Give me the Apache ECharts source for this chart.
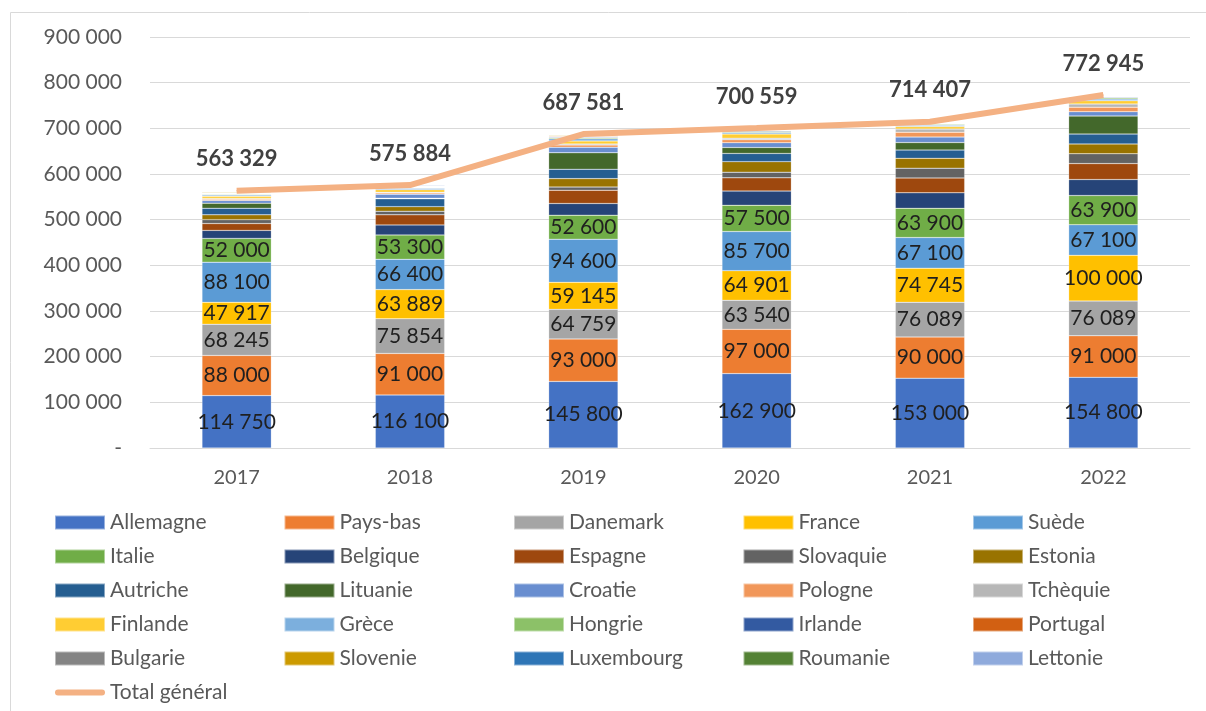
<!DOCTYPE html>
<html>
<head>
<meta charset="utf-8">
<script src="https://cdn.jsdelivr.net/npm/echarts@6/dist/echarts.min.js"></script>
<style>
  html, body { margin: 0; padding: 0; background: #fff; }
  #main { width: 1206px; height: 711px; }
</style>
</head>
<body>
<div id="main"></div>
<script>
const years = ['2017', '2018', '2019', '2020', '2021', '2022'];
const yTicks = [0, 100000, 200000, 300000, 400000, 500000, 600000, 700000, 800000, 900000];

const countries = ['Allemagne', 'Pays-bas', 'Danemark', 'France', 'Suède',
  'Italie', 'Belgique', 'Espagne', 'Slovaquie', 'Estonia',
  'Autriche', 'Lituanie', 'Croatie', 'Pologne', 'Tchèquie',
  'Finlande', 'Grèce', 'Hongrie', 'Irlande', 'Portugal',
  'Bulgarie', 'Slovenie', 'Luxembourg', 'Roumanie', 'Lettonie'];

const colors = ['#4472C4', '#ED7D31', '#A5A5A5', '#FFC000', '#5B9BD5',
  '#70AD47', '#264478', '#9E480E', '#636363', '#997300',
  '#255E91', '#43682B', '#698ED0', '#F1975A', '#B7B7B7',
  '#FFCD33', '#7CAFDD', '#8CC168', '#335AA1', '#D26012',
  '#848484', '#CC9A00', '#2E75B6', '#548235', '#8FAADC'];

// values per country, 2017 -> 2022
const allemagne  = [114750, 116100, 145800, 162900, 153000, 154800];
const paysBas    = [88000, 91000, 93000, 97000, 90000, 91000];
const danemark   = [68245, 75854, 64759, 63540, 76089, 76089];
const france     = [47917, 63889, 59145, 64901, 74745, 100000];
const suede      = [88100, 66400, 94600, 85700, 67100, 67100];
const italie     = [52000, 53300, 52600, 57500, 63900, 63900];
const belgique   = [17500, 22000, 25500, 31000, 34000, 35000];
const espagne    = [15000, 22000, 29000, 29000, 32500, 35000];
const slovaquie  = [8500, 8000, 7000, 12500, 21500, 21500];
const estonia    = [10500, 10000, 18500, 23000, 21500, 21500];
const autriche   = [14500, 17000, 20500, 18000, 18000, 21500];
const lituanie   = [11000, 1500, 36000, 13000, 16500, 39500];
const croatie    = [6000, 8500, 12000, 10500, 12000, 9500];
const pologne    = [2500, 3000, 5000, 6500, 10500, 10000];
const tchequie   = [2000, 1500, 2500, 3500, 7000, 7000];
const finlande   = [4500, 5500, 6500, 9000, 5500, 7000];
const grece      = [3000, 3000, 5000, 3500, 3000, 4000];
const hongrie    = [1500, 1000, 2000, 2000, 2000, 2500];
const irlande    = [1000, 1000, 1500, 1500, 1000, 1500];
const portugal   = [1500, 1000, 1500, 1500, 1000, 1000];
const bulgarie   = [1000, 1000, 1000, 1000, 1000, 1000];
const slovenie   = [1500, 1000, 1500, 1000, 1000, 1000];
const luxembourg = [1000, 500, 1000, 1000, 500, 500];
const roumanie   = [1000, 500, 1000, 500, 500, 500];
const lettonie   = [817, 1341, 677, 1018, 573, 556];

const totals = [563329, 575884, 687581, 700559, 714407, 772945];

const seriesValues = [allemagne, paysBas, danemark, france, suede,
  italie, belgique, espagne, slovaquie, estonia,
  autriche, lituanie, croatie, pologne, tchequie,
  finlande, grece, hongrie, irlande, portugal,
  bulgarie, slovenie, luxembourg, roumanie, lettonie];

const fmt = v => String(v).replace(/\B(?=(\d{3})+(?!\d))/g, ' ');
const FONT = 'Lato';

const chart = echarts.init(document.getElementById('main'));

const series = countries.map((name, i) => ({
  name: name,
  type: 'bar',
  stack: 'total',
  barWidth: '40%',
  itemStyle: { color: colors[i], borderColor: 'rgba(255,255,255,0.45)', borderWidth: 0.5 },
  label: {
    show: i < 6,
    position: 'inside',
    fontFamily: FONT,
    fontSize: 21,
    color: '#1f1f1f',
    formatter: p => fmt(p.value)
  },
  data: seriesValues[i]
}));

// total line, labels need a (tiny) symbol to be drawn
series.push({
  name: 'Total général',
  type: 'line',
  symbol: 'circle',
  symbolSize: 1,
  showSymbol: true,
  z: 10,
  lineStyle: { color: '#F4B183', width: 6 },
  itemStyle: { color: '#F4B183' },
  label: {
    show: true,
    position: 'top',
    distance: 20,
    fontFamily: FONT,
    fontSize: 22,
    fontWeight: 'bold',
    color: '#404040',
    formatter: p => fmt(p.value)
  },
  data: totals
});

// legend: 5 columns laid out like the original
const lineIcon = 'path://M3,0 h44 a3,3 0 0 1 0,6 h-44 a3,3 0 0 1 0,-6 Z';
const legends = [];
for (let c = 0; c < 5; c++) {
  const names = countries.filter((n, i) => i % 5 === c).map(n => ({ name: n, icon: 'rect' }));
  if (c === 0) names.push({ name: 'Total général', icon: lineIcon });
  legends.push({
    orient: 'vertical',
    left: 49 + c * 229.5,
    top: 507,
    itemWidth: 50,
    itemHeight: 14,
    itemGap: 13,
    textStyle: { fontFamily: FONT, fontSize: 21, color: '#595959' },
    data: names
  });
}

const option = {
  animation: false,
  textStyle: { fontFamily: FONT },
  graphic: [{
    type: 'rect',
    shape: { x: 10.5, y: 12.5, width: 1210, height: 720 },
    style: { fill: 'none', stroke: '#D9D9D9', lineWidth: 1 }
  }],
  grid: { left: 150, right: 16, top: 37, bottom: 263 },
  legend: legends,
  xAxis: {
    type: 'category',
    data: years,
    axisTick: { show: false },
    axisLine: { lineStyle: { color: '#D9D9D9' } },
    axisLabel: { fontFamily: FONT, fontSize: 20, color: '#595959', margin: 20 }
  },
  yAxis: {
    type: 'value',
    min: yTicks[0],
    max: yTicks[yTicks.length - 1],
    interval: 100000,
    axisLine: { show: false },
    axisTick: { show: false },
    splitLine: { lineStyle: { color: '#D9D9D9', width: 1 } },
    axisLabel: {
      fontFamily: FONT, fontSize: 21, color: '#595959', margin: 28,
      formatter: v => v === 0 ? '-' : fmt(v)
    }
  },
  series: series
};

chart.setOption(option);
</script>
</body>
</html>
